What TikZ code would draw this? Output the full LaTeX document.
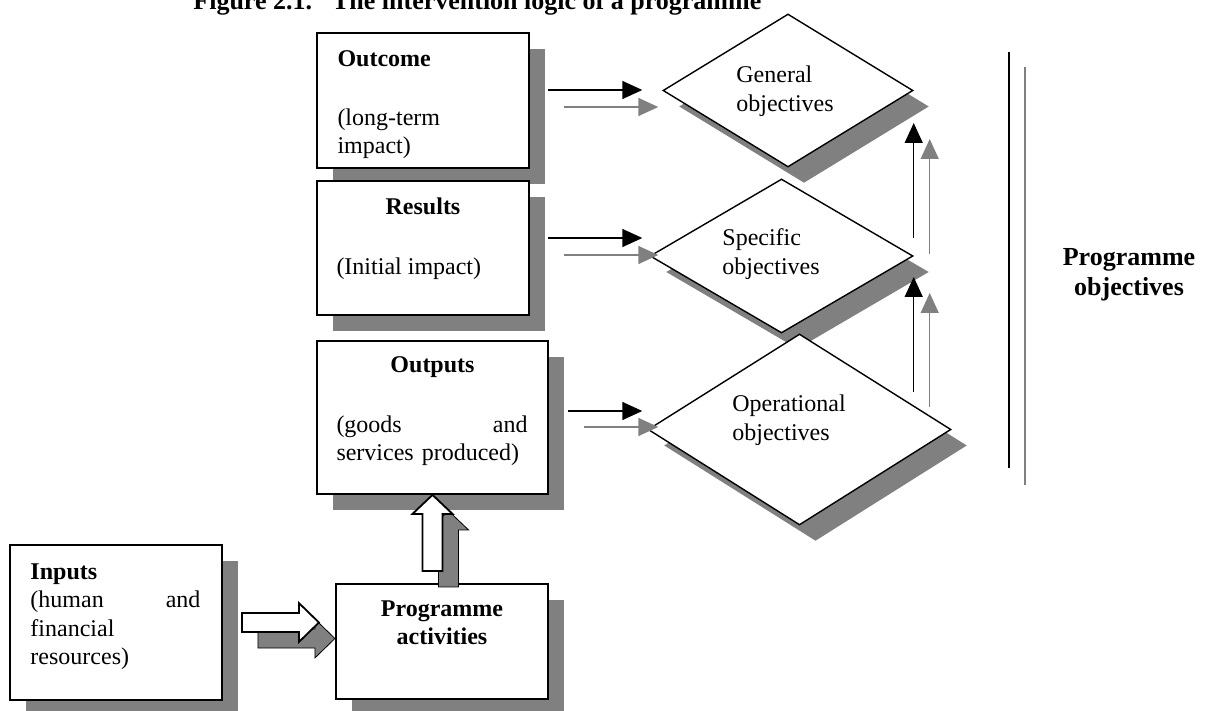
\documentclass[tikz,border=0pt]{standalone}
\usepackage{fontspec}
\setmainfont{Liberation Serif}
\usetikzlibrary{calc,positioning,shapes.geometric,shadows,arrows.meta}
\definecolor{shadowgray}{RGB}{128,128,128}
\tikzset{
  dropgray/.style  = {drop shadow={shadow xshift=8pt, shadow yshift=-8pt,
                      fill=shadowgray, opacity=1}},
  stage/.style     = {shape=rectangle, draw, line width=0.9pt,
                      fill=white, inner sep=0pt, dropgray},
  objective/.style = {shape=diamond, draw, line width=0.7pt,
                      fill=white, inner sep=0pt, dropgray},
  boxtext/.style   = {inner sep=0pt, align=left,
                      font=\fontsize{12}{14.25}\selectfont},
  headtext/.style  = {inner sep=0pt, font=\fontsize{12}{14.25}\selectfont\bfseries},
  bigtext/.style   = {inner sep=0pt, font=\fontsize{13}{15}\selectfont\bfseries},
  fatarrow/.style  = {draw, line width=0.9pt, fill=white},
  fatshadow/.style = {fill=shadowgray, transform canvas={xshift=8pt, yshift=-8pt}},
  link/.style      = {->, line width=0.75pt},
  greylink/.style  = {link, shadowgray}
}

\begin{document}
\begin{tikzpicture}[>={Triangle[length=10pt,width=9pt]}, x=0.5pt, y=-0.5pt]
\useasboundingbox (0,0) rectangle (1205,711);
\node[bigtext, anchor=base west] (title) at (193,10)
  {Figure 2.1.\hspace{10pt}The intervention logic of a programme};

% boxes of the chain
\node[stage, minimum width=106pt, minimum height=67.5pt] (outcome) at (423,100.5) {};
\node[stage, minimum width=106pt, minimum height=67pt] (results) at (423,248) {};
\node[stage, minimum width=115.5pt, minimum height=76.5pt] (outputs) at (432.5,417.5) {};
\node[stage, minimum width=106pt, minimum height=77.5pt] (inputs) at (116,622.5) {};
\node[stage, minimum width=106pt, minimum height=57.5pt] (activities) at (442,641.5) {};

\node[boxtext, anchor=north west] (outcometext) at ($(outcome.north west)+(21,18.5)$)
  {\textbf{Outcome}\\[15pt](long-term\\impact)};
\node[headtext, anchor=base] (resultshead) at ($(results.north)+(0,34)$) {Results};
\node[boxtext, anchor=base west] (resultstext) at ($(results.north west)+(20,94)$) {(Initial impact)};
\node[headtext, anchor=base] (outputshead) at ($(outputs.north)+(0,32)$) {Outputs};
\node[boxtext, anchor=north west, text width=95.5pt] (outputstext)
  at ($(outputs.north west)+(20,75.3)$) {(goods\hfill and\\services produced)};
\node[boxtext, anchor=north west, text width=85pt] (inputstext)
  at ($(inputs.north west)+(21,19)$) {\textbf{Inputs}\\(human\hfill and\\financial\\resources)};
\node[headtext, anchor=north, align=center] (activitiestext)
  at ($(activities.north)+(0,17)$) {Programme\\activities};

% objectives
\node[objective, minimum width=125pt, minimum height=76.5pt] (general) at (788,90.5) {};
\node[objective, minimum width=131.5pt, minimum height=77pt] (specific) at (781.5,256) {};
\node[objective, minimum width=151.5pt, minimum height=95.5pt] (operational) at (799.5,429.5) {};

\node[boxtext, anchor=north west] (generaltext) at ($(general)+(-52,-25)$) {General\\objectives};
\node[boxtext, anchor=north west] (specifictext) at ($(specific)+(-59.5,-27.4)$) {Specific\\objectives};
\node[boxtext, anchor=north west] (operationaltext) at ($(operational)+(-67.5,-34.9)$) {Operational\\objectives};

\node[bigtext, align=center, anchor=north] (progobj) at (1129,248) {Programme\\objectives};

% hollow arrows
\draw[fatshadow] ($(inputs.east)+(19,-9.5)$) -- ++(57,0) -- ++(0,-10) -- ++(20,19.5)
  -- ++(-20,19.5) -- ++(0,-10) -- ++(-57,0) -- cycle;
\draw[fatarrow] ($(inputs.east)+(19,-9.5)$) -- ++(57,0) -- ++(0,-10) -- ++(20,19.5)
  -- ++(-20,19.5) -- ++(0,-10) -- ++(-57,0) -- cycle;
\draw[fatshadow] (outputs.south) -- ++(20,19) -- ++(-10,0) -- ++(0,57) -- ++(-20,0)
  -- ++(0,-57) -- ++(-10,0) -- cycle;
\draw[fatarrow] (outputs.south) -- ++(20,19) -- ++(-10,0) -- ++(0,57) -- ++(-20,0)
  -- ++(0,-57) -- ++(-10,0) -- cycle;

% links to the objectives
\draw[link] ($(outcome.east)+(18,-10.5)$) -- ($(general.west)+(-20,-0.5)$);
\draw[greylink] ($(outcome.east)+(34,6.5)$) -- ($(general.west)+(-4,16.5)$);
\draw[link] ($(results.east)+(18,-10)$) -- ($(specific.west)+(-7,-18)$);
\draw[greylink] ($(results.east)+(34,7)$) -- ($(specific.west)+(9,-1)$);
\draw[link] ($(outputs.east)+(19,-6.5)$) -- ($(operational.west)+(-5,-18.5)$);
\draw[greylink] ($(outputs.east)+(35,9.5)$) -- ($(operational.west)+(11,-2.5)$);

\draw[link] ($(specific.east)+(0,-18)$) -- ($(general.east)+(0,32.5)$);
\draw[greylink] ($(specific.east)+(16,-2)$) -- ($(general.east)+(16,48.5)$);
\draw[link] ($(operational.east)+(-38,-37.5)$) -- ($(specific.east)+(0,21)$);
\draw[greylink] ($(operational.east)+(-22,-22.5)$) -- ($(specific.east)+(16,37)$);

\draw[line width=1pt] (1009,52) -- (1009,468);
\draw[line width=1pt, shadowgray] (1025,67) -- (1025,485);
\end{tikzpicture}
\end{document}
